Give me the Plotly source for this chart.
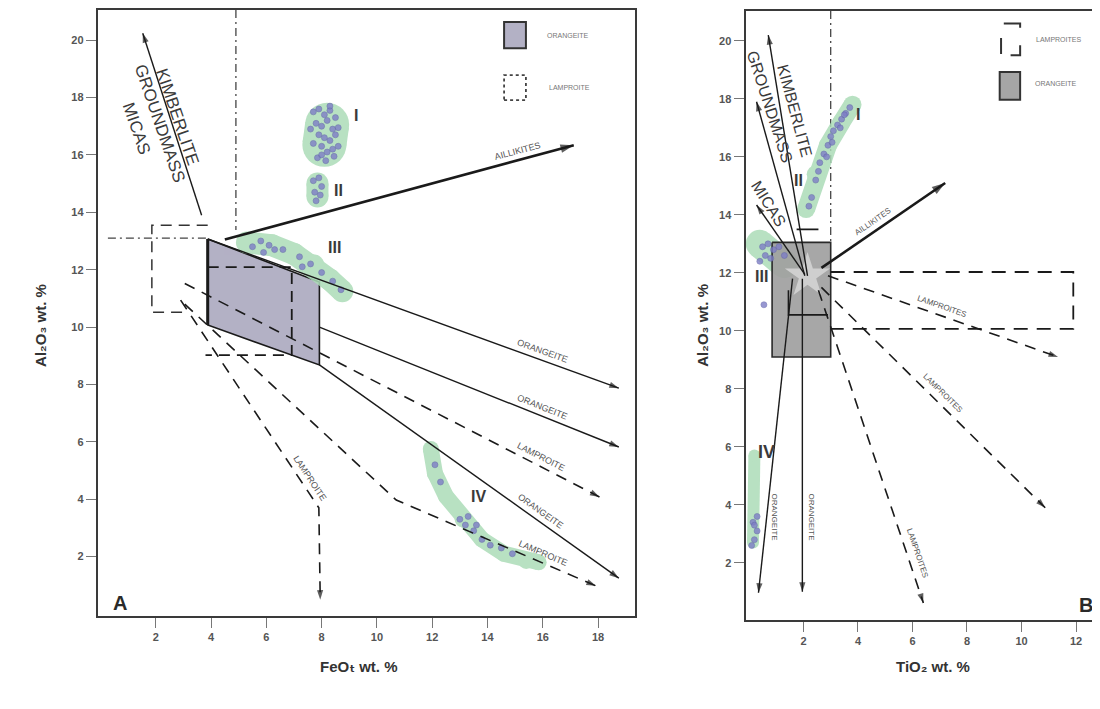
import math
import plotly.graph_objects as go

# ---------------- axis ticks ----------------
A_X_TICKS = [2, 4, 6, 8, 10, 12, 14, 16, 18]
A_Y_TICKS = [2, 4, 6, 8, 10, 12, 14, 16, 18, 20]
B_X_TICKS = [2, 4, 6, 8, 10, 12]
B_Y_TICKS = [2, 4, 6, 8, 10, 12, 14, 16, 18, 20]

# ---------------- Panel A (FeOt vs Al2O3) ----------------
A_ORANGEITE_X = [3.88, 7.92, 7.92, 3.88]
A_ORANGEITE_Y = [13.07, 11.57, 8.68, 10.07]
A_LAMPROITE_X = [3.88, 6.92, 6.92, 3.8]
A_LAMPROITE_Y = [12.09, 12.09, 9.02, 9.02]
A_OUTER_X = [3.88, 1.86, 1.86, 3.0]
A_OUTER_Y = [13.55, 13.55, 10.52, 10.52]
A_DASHDOT_X = [[0.27, 3.88], [4.9, 4.9]]
A_DASHDOT_Y = [[13.1, 13.1], [21.05, 13.38]]

A_TREND_X = [[3.66, 1.53], [4.5, 17.12], [3.88, 18.75], [7.92, 18.75],
             [3.05, 18.05], [7.92, 18.75], [3.05, 10.7, 17.92], [2.9, 7.9, 7.95]]
A_TREND_Y = [[13.9, 20.24], [13.05, 16.34], [13.07, 7.87], [10.0, 5.82],
             [11.52, 4.08], [8.68, 1.25], [10.8, 3.97, 0.98], [10.94, 3.7, 0.5]]
A_TREND_STYLE = ["solid", "bold", "solid", "solid", "dash", "solid", "dash", "dash"]
A_TREND_LABELS = [None, "AILLIKITES", "ORANGEITE", "ORANGEITE", "LAMPROITE", "ORANGEITE", "LAMPROITE", "LAMPROITE"]
# label placement along a segment of each trend: (segment index, fraction, offset px)
A_LABEL_SEG = [0, 0, 0, 0, 0, 0, 1, 0]
A_LABEL_T = [0, 0.846, 0.807, 0.733, 0.85, 0.72, 0.715, 0.88]
A_LABEL_OFF = [0, 9, 9, 9, 9, 9, 9, 9]

A_KIMB_TEXT = ["KIMBERLITE", "GROUNDMASS", "MICAS"]
A_KIMB_X = [2.8, 2.15, 1.31]
A_KIMB_Y = [17.32, 17.1, 16.93]

# clusters (halo centre lines and analysed points)
A_HALO_X = [[8.1, 8.2], [7.85, 7.85],
            [5.3, 6.2, 7.0, 7.7, 8.3, 8.75],
            [11.95, 12.1, 12.5, 13.1, 13.8, 14.6, 15.4, 15.85]]
A_HALO_Y = [[16.35, 17.05], [14.55, 15.0],
            [12.95, 12.85, 12.55, 12.15, 11.65, 11.25],
            [5.75, 4.9, 4.1, 3.3, 2.6, 2.1, 1.85, 1.8]]
A_HALO_W = [44, 22, 22, 16]

A_DOTS_X = [7.7, 7.9, 8.1, 8.3, 8.5, 7.8, 8.0, 8.2, 8.4, 8.6, 7.9, 8.1, 8.3, 8.5, 7.7, 8.0,
            8.2, 8.4, 7.85, 8.15, 8.45, 7.6, 8.6, 8.0, 8.3,
            7.7, 7.9, 7.75, 7.95, 7.8, 8.0,
            5.5, 5.8, 6.1, 6.3, 5.9, 6.6, 7.2, 7.6, 8.0, 8.4, 8.7, 7.3,
            12.1, 12.3, 13.0, 13.2, 13.5, 13.8, 13.3, 14.1, 14.5, 14.9, 13.6]
A_DOTS_Y = [17.5, 17.6, 17.4, 17.55, 17.3, 17.1, 17.0, 17.2, 16.9, 16.95, 16.7, 16.6, 16.5,
            16.7, 16.4, 16.3, 16.1, 16.2, 15.9, 15.8, 15.95, 16.9, 16.3, 16.0, 17.7,
            15.1, 15.2, 14.7, 14.6, 14.4, 14.9,
            12.8, 13.0, 12.85, 12.7, 12.6, 12.7, 12.45, 12.2, 11.9, 11.6, 11.3, 12.1,
            5.2, 4.6, 3.3, 3.1, 2.9, 2.6, 3.4, 2.4, 2.3, 2.1, 3.1]

A_ROMAN = ["I", "II", "III", "IV"]
A_ROMAN_X = [9.26, 8.61, 8.46, 13.66]
A_ROMAN_Y = [17.39, 14.77, 12.79, 4.08]

# ---------------- Panel B (TiO2 vs Al2O3) ----------------
B_ORANGEITE_X = [0.85, 3.0, 3.0, 0.85]
B_ORANGEITE_Y = [13.05, 13.05, 9.1, 9.1]
B_LAMPROITE_X = [3.0, 11.9, 11.9, 3.0]
B_LAMPROITE_Y = [12.03, 12.03, 10.07, 10.07]
B_BRACKET_X = [[1.45, 1.45, 2.9], [1.75, 2.55]]
B_BRACKET_Y = [[11.4, 10.55, 10.55], [13.5, 13.5]]
B_DASHDOT_X = [3.0, 3.0]
B_DASHDOT_Y = [21.03, 13.05]
B_CENTRE = [2.15, 11.9]

B_TREND_X = [[2.15, 0.71], [2.05, 0.28], [2.05, 0.28], [2.66, 7.2], [2.9, 11.34],
             [2.66, 10.87], [2.55, 6.4], [1.6, 0.35], [1.96, 1.96]]
B_TREND_Y = [[11.9, 20.2], [11.9, 17.9], [11.95, 14.34], [12.17, 15.1], [11.9, 9.1],
             [11.5, 3.9], [11.4, 0.62], [11.8, 0.97], [11.8, 1.0]]
B_TREND_STYLE = ["solid", "solid", "solid", "bold", "dash", "dash", "dash", "solid", "solid"]
B_TREND_LABELS = [None, None, None, "AILLIKITES", "LAMPROITES", "LAMPROITES", "LAMPROITES", None, None]
B_LABEL_T = [0, 0, 0, 0.458, 0.483, 0.513, 0.853, 0, 0]
B_LABEL_OFF = [0, 0, 0, 9, 9, 10, 10, 0, 0]

B_VLABEL_TEXT = ["ORANGEITE", "ORANGEITE"]
B_VLABEL_X = [0.93, 2.29]
B_VLABEL_Y = [3.59, 3.59]

B_KIMB_TEXT = ["KIMBERLITE", "GROUNDMASS", "MICAS"]
B_KIMB_X = [1.67, 0.75, 0.71]
B_KIMB_Y = [17.59, 17.72, 14.38]
B_KIMB_ANGLE = [75, 72, 58]

B_HALO_X = [[2.1, 2.45, 2.9, 3.4, 3.8], [0.4, 1.3], [0.15, 0.2]]
B_HALO_Y = [[14.2, 15.4, 16.4, 17.2, 17.8], [13.0, 12.3], [2.7, 5.7]]
B_HALO_W = [18, 28, 12]

B_DOTS_X = [2.3, 2.45, 2.6, 2.75, 2.9, 3.0, 3.1, 3.25, 3.4, 3.55, 3.7, 2.85, 3.05, 3.35, 3.5,
            2.2, 2.55,
            0.5, 0.7, 0.9, 0.6, 0.8, 0.4, 1.1, 1.3,
            0.2, 0.3, 0.15, 0.3, 0.2, 0.1, 0.55]
B_DOTS_Y = [14.6, 15.2, 15.8, 16.1, 16.4, 16.7, 16.9, 17.1, 17.3, 17.5, 17.7, 16.0, 16.5, 17.0,
            17.45, 14.3, 15.5,
            12.9, 13.0, 12.8, 12.6, 12.5, 12.4, 12.9, 12.6,
            2.8, 3.1, 3.4, 3.6, 3.3, 2.6, 10.9]

B_ROMAN = ["I", "II", "III", "IV"]
B_ROMAN_X = [4.01, 1.82, 0.45, 0.64]
B_ROMAN_Y = [17.45, 15.2, 11.86, 5.83]

# ---------------- layout geometry (figure pixels) ----------------
FIG_W, FIG_H = 1100, 709
A_PX = (90, 628, 2, 608)      # left, right, top, bottom
B_PX = (739, 1100, 3, 612)
A_XR, A_YR = [-0.094, 19.33], [-0.07, 21.05]
B_XR, B_YR = [-0.12, 13.1], [0.03, 21.03]

A_SX = (A_PX[1] - A_PX[0]) / (A_XR[1] - A_XR[0])
A_SY = (A_PX[3] - A_PX[2]) / (A_YR[1] - A_YR[0])
B_SX = (B_PX[1] - B_PX[0]) / (B_XR[1] - B_XR[0])
B_SY = (B_PX[3] - B_PX[2]) / (B_YR[1] - B_YR[0])

NARROW = "Liberation Sans Narrow, Arial Narrow, Liberation Sans, Arial"
SANS = "Liberation Sans, Arial"
INK = "#1a1a1a"
HALO = "#acdcb8"
DOT = "#7e7ec6"

fig = go.Figure()


def add_poly(xs, ys, xa, ya, fill, line_col, lw):
    fig.add_trace(go.Scatter(
        x=list(xs) + [xs[0]], y=list(ys) + [ys[0]], xaxis=xa, yaxis=ya, mode="lines",
        fill="toself", fillcolor=fill, line=dict(color=line_col, width=lw),
        hoverinfo="skip", showlegend=False))


def add_line(xs, ys, xa, ya, width, dash, col=INK):
    fig.add_trace(go.Scatter(
        x=xs, y=ys, xaxis=xa, yaxis=ya, mode="lines",
        line=dict(color=col, width=width, dash=dash),
        hoverinfo="skip", showlegend=False))


def add_arrow(xs, ys, xa, ya, style):
    width = {"solid": 1.4, "bold": 2.6, "dash": 1.6}[style]
    dash = "11px,8px" if style == "dash" else "solid"
    head = 14 if style == "bold" else 10
    add_line(xs, ys, xa, ya, width, dash)
    fig.add_trace(go.Scatter(
        x=xs[-2:], y=ys[-2:], xaxis=xa, yaxis=ya, mode="markers",
        marker=dict(symbol="arrow", size=[0, head], angleref="previous",
                    color=INK, line=dict(width=0)),
        hoverinfo="skip", showlegend=False))


def add_halo(xs, ys, w, xa, ya):
    fig.add_trace(go.Scatter(
        x=xs, y=ys, xaxis=xa, yaxis=ya, mode="lines+markers",
        line=dict(color=HALO, width=w), marker=dict(color=HALO, size=w),
        opacity=0.85, hoverinfo="skip", showlegend=False))


def add_dots(xs, ys, xa, ya):
    fig.add_trace(go.Scatter(
        x=xs, y=ys, xaxis=xa, yaxis=ya, mode="markers",
        marker=dict(color=DOT, size=6, opacity=0.8, line=dict(width=0.6, color="#5f62a8")),
        hoverinfo="skip", showlegend=False))


def label(text, x, y, xref, yref, size, angle=0, color="#555", family=NARROW, weight="normal"):
    fig.add_annotation(text=text, x=x, y=y, xref=xref, yref=yref, showarrow=False,
                       xanchor="center", yanchor="middle",
                       textangle=angle, font=dict(family=family, size=size, color=color, weight=weight))


def along(x0, y0, x1, y1, t, off, sx, sy):
    """point on a segment (data units) shifted 'off' pixels to its upper side, and the text angle"""
    dx, dy = (x1 - x0) * sx, -(y1 - y0) * sy
    L = math.hypot(dx, dy)
    ux, uy = dx / L, dy / L
    if ux < 0:
        ux, uy = -ux, -uy
    nx, ny = uy, -ux
    px = x0 * sx + t * dx + off * nx
    py = -y0 * sy + t * dy + off * ny
    return px / sx, -py / sy, math.degrees(math.atan2(uy, ux))


# ---- Panel A drawing ----
for xs, ys in zip(A_DASHDOT_X, A_DASHDOT_Y):
    add_line(xs, ys, "x", "y", 1.3, "8px,4px,2px,4px", "#444")
add_poly(A_ORANGEITE_X, A_ORANGEITE_Y, "x", "y", "#b3b1c5", INK, 1.6)
add_line([A_ORANGEITE_X[0], A_ORANGEITE_X[3]], [A_ORANGEITE_Y[0], A_ORANGEITE_Y[3]], "x", "y", 3, "solid")
for xs, ys, w in zip(A_HALO_X, A_HALO_Y, A_HALO_W):
    add_halo(xs, ys, w, "x", "y")
add_dots(A_DOTS_X, A_DOTS_Y, "x", "y")
add_line(A_LAMPROITE_X, A_LAMPROITE_Y, "x", "y", 1.8, "11px,7px")
add_line(A_OUTER_X, A_OUTER_Y, "x", "y", 1.5, "11px,7px", "#333")
for xs, ys, st in zip(A_TREND_X, A_TREND_Y, A_TREND_STYLE):
    add_arrow(xs, ys, "x", "y", st)

for xs, ys, lab, seg, t, off in zip(A_TREND_X, A_TREND_Y, A_TREND_LABELS, A_LABEL_SEG, A_LABEL_T, A_LABEL_OFF):
    if lab:
        lx, ly, ang = along(xs[seg], ys[seg], xs[seg + 1], ys[seg + 1], t, off, A_SX, A_SY)
        label(lab, lx, ly, "x", "y", 9, ang)
for t, x, y in zip(A_KIMB_TEXT, A_KIMB_X, A_KIMB_Y):
    label(t, x, y, "x", "y", 17, 71, "#3a3a3a", SANS)
for t, x, y in zip(A_ROMAN, A_ROMAN_X, A_ROMAN_Y):
    label(t, x, y, "x", "y", 16, 0, "#3a3a3a", SANS, "bold")
label("A", 0.7, 0.38, "x", "y", 20, 0, "#2a2a2a", SANS, "bold")

# legend A
fig.add_shape(type="rect", xref="x", yref="y", x0=14.6, x1=15.39, y0=19.72, y1=20.63,
              fillcolor="#b3b1c5", line=dict(color="#333", width=2))
fig.add_shape(type="rect", xref="x", yref="y", x0=14.6, x1=15.39, y0=17.91, y1=18.78,
              fillcolor="rgba(0,0,0,0)", line=dict(color="#444", width=1.8, dash="dot"))
label("ORANGEITE", 16.9, 20.17, "x", "y", 7, 0, "#777")
label("LAMPROITE", 16.95, 18.36, "x", "y", 7, 0, "#777")

# ---- Panel B drawing ----
add_line(B_DASHDOT_X, B_DASHDOT_Y, "x2", "y2", 1.3, "8px,4px,2px,4px", "#444")
for xs, ys, w in zip(B_HALO_X, B_HALO_Y, B_HALO_W):
    add_halo(xs, ys, w, "x2", "y2")
add_poly(B_ORANGEITE_X, B_ORANGEITE_Y, "x2", "y2", "rgba(160,160,160,0.92)", "#2a2a2a", 1.6)
add_dots(B_DOTS_X, B_DOTS_Y, "x2", "y2")
add_line(B_LAMPROITE_X, B_LAMPROITE_Y, "x2", "y2", 1.8, "14px,9px")
for xs, ys in zip(B_BRACKET_X, B_BRACKET_Y):
    add_line(xs, ys, "x2", "y2", 1.6, "solid")
fig.add_trace(go.Scatter(x=[B_CENTRE[0]], y=[B_CENTRE[1]], xaxis="x2", yaxis="y2", mode="markers",
                         marker=dict(symbol="star", size=34, color="#cfcfcf", line=dict(width=0)),
                         hoverinfo="skip", showlegend=False))
for xs, ys, st in zip(B_TREND_X, B_TREND_Y, B_TREND_STYLE):
    add_arrow(xs, ys, "x2", "y2", st)

for xs, ys, lab, t, off in zip(B_TREND_X, B_TREND_Y, B_TREND_LABELS, B_LABEL_T, B_LABEL_OFF):
    if lab:
        lx, ly, ang = along(xs[0], ys[0], xs[1], ys[1], t, off, B_SX, B_SY)
        label(lab, lx, ly, "x2", "y2", 8, ang)
for t, x, y in zip(B_VLABEL_TEXT, B_VLABEL_X, B_VLABEL_Y):
    label(t, x, y, "x2", "y2", 8, 90)
for t, x, y, a in zip(B_KIMB_TEXT, B_KIMB_X, B_KIMB_Y, B_KIMB_ANGLE):
    label(t, x, y, "x2", "y2", 16, a, "#3a3a3a", SANS)
for t, x, y in zip(B_ROMAN, B_ROMAN_X, B_ROMAN_Y):
    label(t, x, y, "x2", "y2", 16 if t != "IV" else 18, 0, "#3a3a3a", SANS, "bold")
label("B", 12.38, 0.55, "x2", "y2", 20, 0, "#2a2a2a", SANS, "bold")

# legend B
fig.add_shape(type="path", xref="x2", yref="y2",
              path="M 9.25,20.1 L 9.25,19.55 M 9.35,20.6 L 9.95,20.6 L 9.95,20.45 M 9.95,19.85 L 9.95,19.5 L 9.6,19.5",
              line=dict(color="#333", width=2))
fig.add_shape(type="rect", xref="x2", yref="y2", x0=9.2, x1=9.95, y0=17.97, y1=18.93,
              fillcolor="#a6a6a6", line=dict(color="#333", width=2))
label("LAMPROITES", 11.34, 20.03, "x2", "y2", 7, 0, "#777")
label("ORANGEITE", 11.27, 18.52, "x2", "y2", 7, 0, "#777")

# axis titles (paper coordinates, figure pixels)
TITLE_FONT = dict(family="Liberation Sans, DejaVu Sans, Arial", size=15, color="#333", weight="bold")


def title(text, px, py, angle=0):
    fig.add_annotation(text=text, x=px / FIG_W, y=1 - py / FIG_H, xref="paper", yref="paper",
                       xanchor="center", yanchor="middle", showarrow=False,
                       textangle=angle, font=TITLE_FONT)


title("Al\u2082O\u2083 wt. %", 32, 317, -90)
title("Al\u2082O\u2083 wt. %", 695, 317, -90)
title("FeO\u209c wt. %", 352, 658)
title("TiO\u2082 wt. %", 927, 658)

TICK_FONT = dict(family=NARROW, size=11, color="#555", weight="bold")
common = dict(showgrid=False, zeroline=False, showline=True, mirror=True, linecolor="#3a3a3a",
              linewidth=2.2, ticks="outside", ticklen=10, tickcolor="#777", tickwidth=1,
              tickfont=TICK_FONT, fixedrange=True)


def dom_x(p):
    return [p[0] / FIG_W, p[1] / FIG_W]


def dom_y(p):
    return [1 - p[3] / FIG_H, 1 - p[2] / FIG_H]


fig.update_layout(
    width=FIG_W, height=FIG_H, margin=dict(l=0, r=0, t=0, b=0),
    paper_bgcolor="white", plot_bgcolor="white", showlegend=False,
    xaxis=dict(domain=dom_x(A_PX), range=A_XR, tickvals=A_X_TICKS, anchor="y", **common),
    yaxis=dict(domain=dom_y(A_PX), range=A_YR, tickvals=A_Y_TICKS, anchor="x", **common),
    xaxis2=dict(domain=dom_x(B_PX), range=B_XR, tickvals=B_X_TICKS, anchor="y2", **common),
    yaxis2=dict(domain=dom_y(B_PX), range=B_YR, tickvals=B_Y_TICKS, anchor="x2", **common),
)

fig.write_html("out.html")
